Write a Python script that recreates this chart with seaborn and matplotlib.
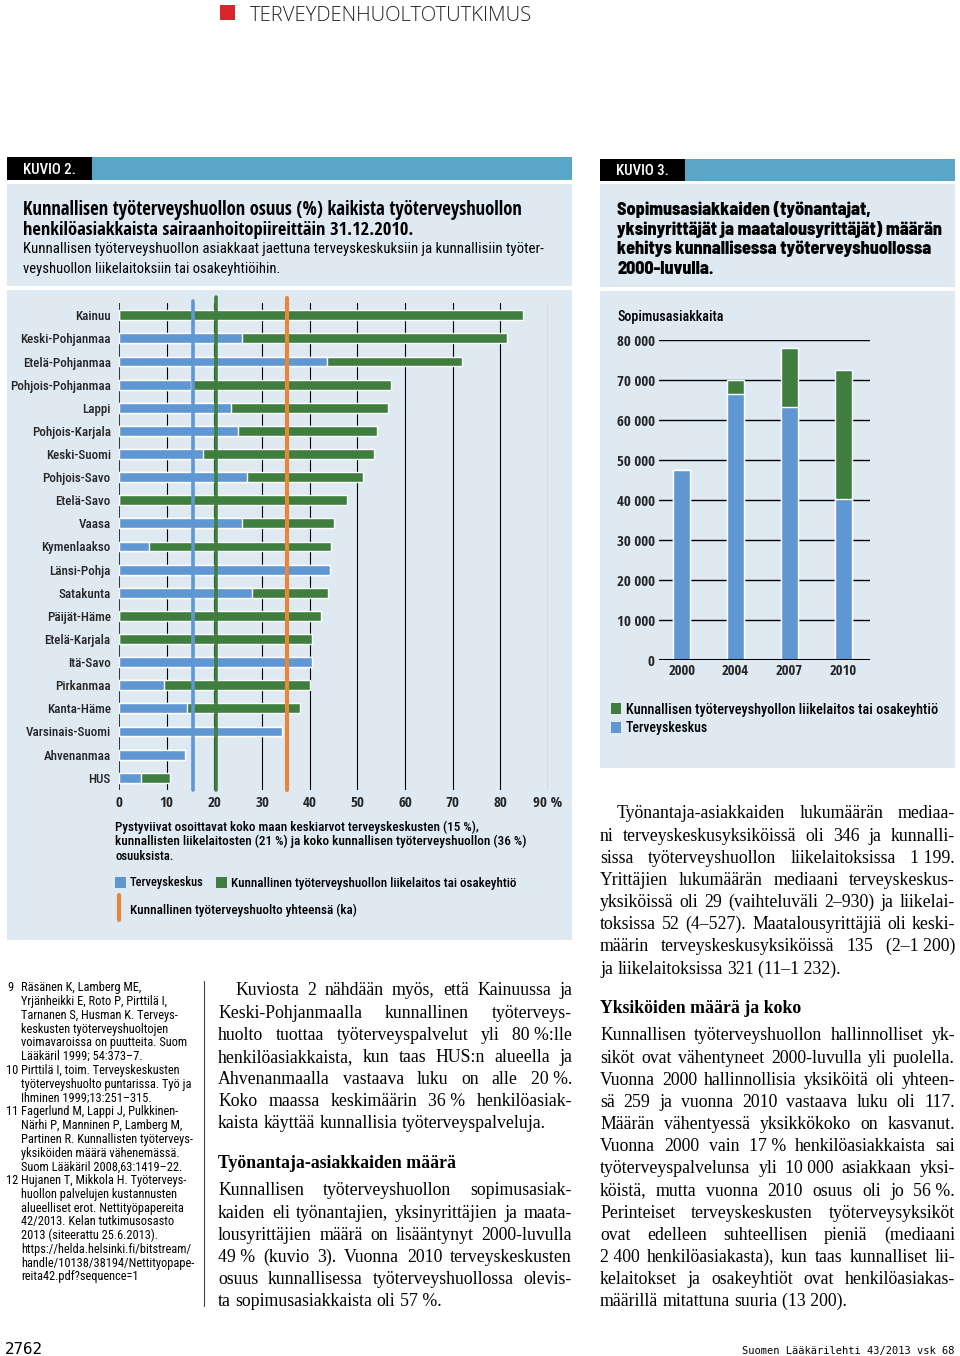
import os
import numpy as np
import pandas as pd
import matplotlib
matplotlib.use("Agg")
import matplotlib.pyplot as plt
import seaborn as sns
from matplotlib import font_manager as fm
from matplotlib.font_manager import FontProperties
from matplotlib.patches import Rectangle
from matplotlib.lines import Line2D

# ---------------- data ----------------
regions = ['Kainuu', 'Keski-Pohjanmaa', 'Etelä-Pohjanmaa', 'Pohjois-Pohjanmaa', 'Lappi',
           'Pohjois-Karjala', 'Keski-Suomi', 'Pohjois-Savo', 'Etelä-Savo', 'Vaasa',
           'Kymenlaakso', 'Länsi-Pohja', 'Satakunta', 'Päijät-Häme', 'Etelä-Karjala',
           'Itä-Savo', 'Pirkanmaa', 'Kanta-Häme', 'Varsinais-Suomi', 'Ahvenanmaa', 'HUS']
terveyskeskus = [0, 25.9, 43.6, 15.0, 23.6, 25.0, 17.6, 26.9, 0, 25.7,
                 6.2, 44.2, 28.0, 0, 0, 40.5, 9.5, 14.2, 34.1, 13.9, 4.7]
liikelaitos = [84.7, 55.4, 28.3, 42.1, 32.9, 29.2, 35.9, 24.3, 47.9, 19.3,
               38.2, 0, 15.9, 42.4, 40.5, 0, 30.5, 23.7, 0, 0, 5.9]
ref_tk, ref_ll, ref_total = 15.5, 20.4, 35.3
x_ticks = [0, 10, 20, 30, 40, 50, 60, 70, 80, 90]
x_ticklabels = ['0', '10', '20', '30', '40', '50', '60', '70', '80', '90 %']

years = ['2000', '2004', '2007', '2010']
k3_terveyskeskus = [47500, 66400, 63300, 40200]
k3_liikelaitos = [0, 3600, 14600, 32300]
y3_ticks = [0, 10000, 20000, 30000, 40000, 50000, 60000, 70000, 80000]

# ---------------- style ----------------
BLUE = '#5f97d3'
GREEN = '#3f7e3f'
ORANGE = '#e8873a'
PANEL = '#dfe9f2'
HEADBAR = '#5aa6c9'

sns.set_theme(style='white')


def _wval(w):
    if isinstance(w, (int, float)):
        return w
    return fm.weight_dict.get(w, 400)


def _width_class(f):
    fn = os.path.basename(f.fname).lower()
    st = f.stretch if isinstance(f.stretch, str) else ''
    if 'extracondensed' in fn or 'ultracondensed' in fn or st in ('extra-condensed', 'ultra-condensed'):
        return 'extra'
    if 'semicondensed' in fn or st == 'semi-condensed':
        return 'semi'
    if 'condensed' in fn or 'narrow' in fn or st == 'condensed' or 'narrow' in f.name.lower():
        return 'cond'
    return 'normal'


def pick(target_w, want='cond'):
    order = {'cond': ['cond', 'semi', 'extra', 'normal'],
             'semi': ['semi', 'cond', 'normal', 'extra']}[want]
    best, best_score = None, 1e9
    for f in fm.fontManager.ttflist:
        fn = os.path.basename(f.fname).lower()
        if f.style != 'normal' or 'italic' in fn or 'oblique' in fn:
            continue
        if 'serif' in fn or 'mono' in fn or 'cjk' in fn or 'serif' in f.name.lower():
            continue
        wc = _width_class(f)
        if wc == 'normal':
            continue
        if 'liberation' in fn:
            rank = 0
        elif fn.startswith('notosans-'):
            rank = 1
        elif 'opensans' in fn:
            rank = 2
        elif 'roboto' in fn:
            rank = 3
        elif 'dejavu' in fn:
            rank = 6
        else:
            rank = 5
        score = rank + abs(_wval(f.weight) - target_w) / 100 * 2 + order.index(wc) * 4
        if score < best_score:
            best, best_score = f, score
    if best is None:
        return FontProperties(family='DejaVu Sans', stretch='condensed',
                              weight='bold' if target_w >= 600 else 'normal')
    return FontProperties(fname=best.fname)


FP = {
    'reg': pick(400),
    'med': pick(500),
    'bold': pick(700),
    'heavy': pick(800, 'semi'),
    'serif': FontProperties(family=['Liberation Serif', 'DejaVu Serif']),
    'serifb': FontProperties(family=['Liberation Serif', 'DejaVu Serif'], weight='bold'),
    'light': FontProperties(family=['Open Sans', 'DejaVu Sans'], weight='light'),
    'mono': FontProperties(family=['DejaVu Sans Mono']),
}

W, H = 960, 1356
fig = plt.figure(figsize=(W / 100, H / 100), dpi=100)
fig.patch.set_facecolor('white')
R = fig.canvas.get_renderer()


def fx(x):
    return x / W


def fy(y):
    return 1 - y / H


def rect(x0, y0, x1, y1, color, z=0):
    fig.add_artist(Rectangle((fx(x0), fy(y1)), (x1 - x0) / W, (y1 - y0) / H,
                             transform=fig.transFigure, facecolor=color,
                             edgecolor='none', zorder=z))


def text_width(s, fp, size):
    t = fig.text(0, 0, s)
    t.set_fontproperties(fp.copy())
    t.set_fontsize(size)
    w = t.get_window_extent(R).width
    t.remove()
    return w


def put(x, yc, s, size, fp='reg', color='black', ha='left', fitw=None):
    t = fig.text(0, 0, s, color=color, ha=ha, va='baseline', zorder=5)
    t.set_fontproperties(FP[fp].copy())
    t.set_fontsize(size)
    if fitw:
        w = t.get_window_extent(R).width
        size = size * fitw / w
        t.set_fontsize(size)
    base = yc + 0.36 * size * 100 / 72
    t.set_position((fx(x), fy(base)))
    return t


def fit_size(lines, fp, width, ref=10.0):
    return min(ref * width / text_width(s, FP[fp], ref) for s in lines)


def justify(x0, x1, yc, line, size, fp, last=False):
    words = line.split(' ')
    texts = [put(0, yc, w_, size, fp=fp) for w_ in words]
    widths = [t.get_window_extent(R).width for t in texts]
    if last or len(words) == 1:
        gap = 0.25 * size * 100 / 72
    else:
        gap = (x1 - x0 - sum(widths)) / (len(words) - 1)
    x = x0
    base = yc + 0.36 * size * 100 / 72
    for t, w_ in zip(texts, widths):
        t.set_position((fx(x), fy(base)))
        x += w_ + gap


# ---------------- page header ----------------
rect(220, 5, 235, 20, '#d9252b')
put(250, 14, 'TERVEYDENHUOLTOTUTKIMUS', 15, fp='light', color='#222222', fitw=283)

# ---------------- panels ----------------
rect(7, 157, 572, 180, HEADBAR)
rect(7, 157, 92, 180, '#000000', z=1)
rect(7, 184, 572, 286, PANEL)
rect(7, 290, 572, 940, PANEL)
put(23, 169, 'KUVIO 2.', 10, fp='med', color='white', fitw=53)

rect(600, 159, 955, 181, HEADBAR)
rect(600, 159, 685, 181, '#000000', z=1)
rect(600, 184, 955, 287, PANEL)
rect(600, 291, 955, 768, PANEL)
put(616, 170, 'KUVIO 3.', 10, fp='med', color='white', fitw=53)

# titles
put(23, 208, 'Kunnallisen työterveyshuollon osuus (%) kaikista työterveyshuollon', 11.5, fp='bold', fitw=502)
put(23, 228, 'henkilöasiakkaista sairaanhoitopiireittäin 31.12.2010.', 11.5, fp='bold', fitw=390)
put(23, 248, 'Kunnallisen työterveyshuollon asiakkaat jaettuna terveyskeskuksiin ja kunnallisiin työter-', 10, fitw=514)
put(23, 268, 'veyshuollon liikelaitoksiin tai osakeyhtiöihin.', 10, fitw=256)

k3_lines = [(209, 'Sopimusasiakkaiden (työnantajat,'),
            (229, 'yksinyrittäjät ja maatalousyrittäjät) määrän'),
            (248, 'kehitys kunnallisessa työterveyshuollossa'),
            (268, '2000-luvulla.')]
k3_size = 10 * 323 / text_width(k3_lines[1][1], FP['heavy'], 10)
for yc, s in k3_lines:
    put(617, yc, s, k3_size, fp='heavy')

# ---------------- chart 1 (horizontal stacked bars) ----------------
df1 = pd.DataFrame({'alue': regions, 'tk': terveyskeskus, 'll': liikelaitos})
df1['total'] = df1['tk'] + df1['ll']

top, bot = 303, 790
ax1 = fig.add_axes([fx(119), fy(bot), (548 - 119) / W, (bot - top) / H])
ax1.set_facecolor('none')
sns.barplot(data=df1, y='alue', x='total', color=GREEN, width=0.43, orient='h',
            ax=ax1, saturation=1, zorder=3)
sns.barplot(data=df1, y='alue', x='tk', color=BLUE, width=0.43, orient='h',
            ax=ax1, saturation=1, zorder=3)
ax1.set_xlim(0, 90)
ax1.set_ylim(len(regions) - 0.5 + 0.03, -0.5 - 0.03)
ax1.set_xticks(x_ticks)
ax1.set_xticklabels(x_ticklabels)
ax1.tick_params(axis='x', length=0, pad=4)
ax1.tick_params(axis='y', length=0, pad=6)
ylab_size = 10 * 100 / text_width('Pohjois-Pohjanmaa', FP['med'], 10)
for lab in ax1.get_yticklabels():
    lab.set_fontproperties(FP['med'].copy())
    lab.set_fontsize(ylab_size)
xlab_size = 10 * 14 / text_width('10', FP['bold'], 10)
for lab in ax1.get_xticklabels():
    lab.set_fontproperties(FP['bold'].copy())
    lab.set_fontsize(xlab_size)
ax1.set_xlabel('')
ax1.set_ylabel('')
for sp in ax1.spines.values():
    sp.set_visible(False)
for xv in x_ticks:
    ax1.axvline(xv, color='black', lw=1.1 if xv == 0 else 0.8, zorder=1)
ax1.axvline(ref_tk, color=BLUE, lw=2.6, zorder=4, ymax=1.005, clip_on=False)
ax1.axvline(ref_ll, color=GREEN, lw=2.6, zorder=4, ymax=1.012, clip_on=False)
ax1.axvline(ref_total, color=ORANGE, lw=3, zorder=4, ymax=1.01, clip_on=False)

# chart 1 notes and legend
put(115, 826, 'Pystyviivat osoittavat koko maan keskiarvot terveyskeskusten (15 %),', 9, fp='med', fitw=364)
put(115, 840, 'kunnallisten liikelaitosten (21 %) ja koko kunnallisen työterveyshuollon (36 %)', 9, fp='med', fitw=409)
put(115, 855, 'osuuksista.', 9, fp='med', fitw=58)
rect(115, 877, 126, 888, BLUE, z=2)
put(130, 882, 'Terveyskeskus', 9.5, fp='med', fitw=75)
rect(216, 877, 227, 888, GREEN, z=2)
put(231, 882, 'Kunnallinen työterveyshuollon liikelaitos tai osakeyhtiö', 9.5, fp='med', fitw=288)
fig.add_artist(Line2D([fx(119), fx(119)], [fy(895), fy(920)], color=ORANGE, lw=3,
                      transform=fig.transFigure))
put(130, 909, 'Kunnallinen työterveyshuolto yhteensä (ka)', 9.5, fp='med', fitw=228)

# ---------------- chart 3 (vertical stacked bars) ----------------
df3 = pd.DataFrame({'vuosi': years, 'tk': k3_terveyskeskus, 'll': k3_liikelaitos})
df3['total'] = df3['tk'] + df3['ll']
ax3 = fig.add_axes([fx(659), fy(660), (870 - 659) / W, (660 - 340) / H])
ax3.set_facecolor('none')
sns.barplot(data=df3, x='vuosi', y='total', color=GREEN, width=0.31, ax=ax3,
            saturation=1, zorder=3)
sns.barplot(data=df3, x='vuosi', y='tk', color=BLUE, width=0.31, ax=ax3,
            saturation=1, zorder=3)
ax3.set_xlim(-0.42, 3.49)
ax3.set_ylim(0, 80000)
ax3.set_yticks(y3_ticks)
ax3.set_yticklabels([f'{v:,}'.replace(',', ' ') for v in y3_ticks])
ax3.set_xticks(range(len(years)))
ax3.set_xticklabels(years)
ax3.tick_params(axis='y', length=0, pad=3)
ax3.tick_params(axis='x', length=0, pad=3)
y3_size = 10 * 38 / text_width('80 000', FP['bold'], 10)
x3_size = 10 * 27 / text_width('2000', FP['bold'], 10)
for lab in ax3.get_yticklabels():
    lab.set_fontproperties(FP['bold'].copy())
    lab.set_fontsize(y3_size)
for lab in ax3.get_xticklabels():
    lab.set_fontproperties(FP['bold'].copy())
    lab.set_fontsize(x3_size)
ax3.set_xlabel('')
ax3.set_ylabel('')
for sp in ax3.spines.values():
    sp.set_visible(False)
for yv in y3_ticks:
    ax3.axhline(yv, color='black', lw=2.2 if yv == 0 else 1.0, zorder=1 if yv else 4)
put(617, 316, 'Sopimusasiakkaita', 9.5, fp='med', fitw=108)

rect(611, 703, 621, 714, GREEN, z=2)
put(626, 709, 'Kunnallisen työterveyshyollon liikelaitos tai osakeyhtiö', 9.5, fp='med', fitw=314)
rect(611, 722, 621, 733, BLUE, z=2)
put(626, 727, 'Terveyskeskus', 9.5, fp='med', fitw=83)

# ---------------- references column ----------------
refs = [
    ('9', 'Räsänen K, Lamberg ME,'),
    ('', 'Yrjänheikki E, Roto P, Pirttilä I,'),
    ('', 'Tarnanen S, Husman K. Terveys-'),
    ('', 'keskusten työterveyshuoltojen'),
    ('', 'voimavaroissa on puutteita. Suom'),
    ('', 'Lääkäril 1999; 54:373–7.'),
    ('10', 'Pirttilä I, toim. Terveyskeskusten'),
    ('', 'työterveyshuolto puntarissa. Työ ja'),
    ('', 'Ihminen 1999;13:251–315.'),
    ('11', 'Fagerlund M, Lappi J, Pulkkinen-'),
    ('', 'Närhi P, Manninen P, Lamberg M,'),
    ('', 'Partinen R. Kunnallisten työterveys-'),
    ('', 'yksiköiden määrä vähenemässä.'),
    ('', 'Suom Lääkäril 2008,63:1419–22.'),
    ('12', 'Hujanen T, Mikkola H. Työterveys-'),
    ('', 'huollon palvelujen kustannusten'),
    ('', 'alueelliset erot. Nettityöpapereita'),
    ('', '42/2013. Kelan tutkimusosasto'),
    ('', '2013 (siteerattu 25.6.2013).'),
    ('', 'https://helda.helsinki.fi/bitstream/'),
    ('', 'handle/10138/38194/Nettityopape-'),
    ('', 'reita42.pdf?sequence=1'),
]
ref_size = 10 * 171 / text_width('Partinen R. Kunnallisten työterveys-', FP['reg'], 10)
ref_size = min(ref_size, fit_size([s for _, s in refs], 'reg', 174))
for i, (n, s) in enumerate(refs):
    yc = 987 + i * 13.76
    if n:
        put(6 if len(n) == 2 else 7, yc, n, ref_size)
    put(21, yc, s, ref_size)

fig.add_artist(Line2D([fx(204), fx(204)], [fy(981), fy(1306)], color='#444444', lw=0.8,
                      transform=fig.transFigure))

# ---------------- body text ----------------
NB = '\u00a0'
mid1 = [
    'Kuviosta 2 nähdään myös, että Kainuussa ja',
    'Keski-Pohjanmaalla kunnallinen työterveys-',
    f'huolto tuottaa työterveyspalvelut yli 80{NB}%:lle',
    'henkilöasiakkaista, kun taas HUS:n alueella ja',
    f'Ahvenanmaalla vastaava luku on alle 20{NB}%.',
    f'Koko maassa keskimäärin 36{NB}% henkilöasiak-',
    'kaista käyttää kunnallisia työterveyspalveluja.',
]
mid2 = [
    'Kunnallisen työterveyshuollon sopimusasiak-',
    'kaiden eli työnantajien, yksinyrittäjien ja maata-',
    'lousyrittäjien määrä on lisääntynyt 2000-luvulla',
    f'49{NB}% (kuvio 3). Vuonna 2010 terveyskeskusten',
    'osuus kunnallisessa työterveyshuollossa olevis-',
    f'ta sopimusasiakkaista oli 57{NB}%.',
]
right1 = [
    'Työnantaja-asiakkaiden lukumäärän mediaa-',
    'ni terveyskeskusyksiköissä oli 346 ja kunnalli-',
    f'sissa työterveyshuollon liikelaitoksissa 1{NB}199.',
    'Yrittäjien lukumäärän mediaani terveyskeskus-',
    'yksiköissä oli 29 (vaihteluväli 2–930) ja liikelai-',
    'toksissa 52 (4–527). Maatalousyrittäjiä oli keski-',
    f'määrin terveyskeskusyksiköissä 135 (2–1{NB}200)',
    f'ja liikelaitoksissa 321 (11–1{NB}232).',
]
right2 = [
    'Kunnallisen työterveyshuollon hallinnolliset yk-',
    'siköt ovat vähentyneet 2000-luvulla yli puolella.',
    'Vuonna 2000 hallinnollisia yksiköitä oli yhteen-',
    'sä 259 ja vuonna 2010 vastaava luku oli 117.',
    'Määrän vähentyessä yksikkökoko on kasvanut.',
    f'Vuonna 2000 vain 17{NB}% henkilöasiakkaista sai',
    f'työterveyspalvelunsa yli 10{NB}000 asiakkaan yksi-',
    f'köistä, mutta vuonna 2010 osuus oli jo 56{NB}%.',
    'Perinteiset terveyskeskusten työterveysyksiköt',
    'ovat edelleen suhteellisen pieniä (mediaani',
    f'2{NB}400 henkilöasiakasta), kun taas kunnalliset lii-',
    'kelaitokset ja osakeyhtiöt ovat henkilöasiakas-',
    f'määrillä mitattuna suuria (13{NB}200).',
]
BS = min(fit_size(mid1[1:-1] + mid2[:-1], 'serif', 354 - 6),
         fit_size(right1[1:-1] + right2[:-1], 'serif', 355 - 6))
LS = 22.17


def para(lines, x0, x1, y0, indent=0):
    for i, ln in enumerate(lines):
        justify(x0 + (indent if i == 0 else 0), x1, y0 + i * LS, ln, BS, 'serif',
                last=(i == len(lines) - 1))


para(mid1, 218, 572, 989, indent=17)
put(218, 1162, 'Työnantaja-asiakkaiden määrä', BS, fp='serifb')
para(mid2, 218, 572, 1189)
para(right1, 600, 955, 812, indent=17)
put(600, 1007, 'Yksiköiden määrä ja koko', BS, fp='serifb')
para(right2, 600, 955, 1034)

# ---------------- footer ----------------
put(5, 1348, '2762', 11, fp='mono', fitw=38)
put(742, 1350, 'Suomen Lääkärilehti 43/2013 vsk 68', 7.6, fp='mono', fitw=213)

fig.savefig('out.png', dpi=100, facecolor='white')
